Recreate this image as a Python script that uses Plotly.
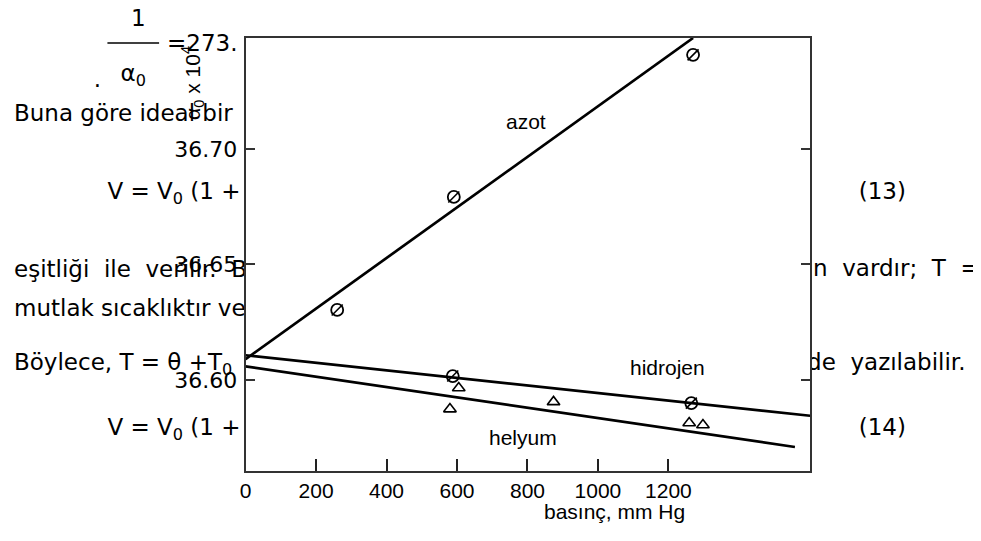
import plotly.graph_objects as go

# ---------------- data ----------------
azot_p = [260, 591, 1270]
azot_v = [36.6303, 36.6792, 36.7407]
hidrojen_p = [588, 1265]
hidrojen_v = [36.6017, 36.5900]
helyum_p = [580, 605, 874, 1259, 1298]
helyum_v = [36.5874, 36.5965, 36.5905, 36.5814, 36.5805]

azot_fit_p = [0, 1270]
azot_fit_v = [36.609, 36.748]
hidrojen_fit_p = [0, 1602]
hidrojen_fit_v = [36.6107, 36.5845]
helyum_fit_p = [0, 1559]
helyum_fit_v = [36.6059, 36.5710]

y_ticks = [36.60, 36.65, 36.70]
x_ticks = [0, 200, 400, 600, 800, 1000, 1200]
x_range = [0, 1602]
y_range = [36.5606, 36.748]

# background page text (left-aligned pieces)
bg_left_text = [
    "=273.",
    "Buna göre ideal bir",
    "V = V<sub>0</sub> (1 +",
    "(13)",
    "eşitliği\u00a0\u00a0ile\u00a0\u00a0verilir.\u00a0\u00a0Bu",
    "n\u00a0\u00a0vardır;\u00a0\u00a0T\u00a0\u00a0=",
    "mutlak sıcaklıktır ve",
    "Böylece, T = θ +T<sub>0</sub>",
    "de\u00a0\u00a0yazılabilir.",
    "V = V<sub>0</sub> (1 +",
    "(14)",
]
bg_left_x = [162, 8, 102, 858, 8, 812, 8, 8, 806, 102, 858]
bg_left_y = [45, 115, 193, 193, 271, 270, 310, 364, 364, 429, 429]

bg_center_text = ["1", "α<sub>0</sub>", "."]
bg_center_x = [133, 128, 92]
bg_center_y = [20, 75, 81]

# page geometry (reference pixels); the html body adds an 8px margin
OFF = 8
W, H = 981 - OFF, 541 - OFF
px_left, px_right, px_top, px_bottom = 241, 809, 38, 471


def fx(px):
    return (px - OFF) / W


def fy(py):
    return 1 - (py - OFF) / H


BODY = "DejaVu Sans"
ARIAL = "Liberation Sans, Arial"

fig = go.Figure()

# background page text (drawn in full-page subplot, underneath the chart)
fig.add_trace(go.Scatter(
    x=bg_left_x, y=bg_left_y, text=bg_left_text, mode="text",
    textposition="middle right", textfont=dict(family=BODY, size=23, color="black"),
    xaxis="x", yaxis="y", hoverinfo="skip", cliponaxis=False))
fig.add_trace(go.Scatter(
    x=bg_center_x, y=bg_center_y, text=bg_center_text, mode="text",
    textposition="middle center", textfont=dict(family=BODY, size=23, color="black"),
    xaxis="x", yaxis="y", hoverinfo="skip", cliponaxis=False))

# white plot area covering page text
fig.add_trace(go.Scatter(
    x=[x_range[0], x_range[1], x_range[1], x_range[0], x_range[0]],
    y=[y_range[0], y_range[0], y_range[1], y_range[1], y_range[0]],
    fill="toself", fillcolor="white", mode="none",
    xaxis="x2", yaxis="y2", hoverinfo="skip"))

line_style = dict(color="black", width=2.7)
for fp, fv in [(azot_fit_p, azot_fit_v), (hidrojen_fit_p, hidrojen_fit_v), (helyum_fit_p, helyum_fit_v)]:
    fig.add_trace(go.Scatter(x=fp, y=fv, mode="lines", line=line_style,
                             xaxis="x2", yaxis="y2", hoverinfo="skip"))

# circle-with-slash markers
for p, v in [(azot_p, azot_v), (hidrojen_p, hidrojen_v)]:
    fig.add_trace(go.Scatter(x=p, y=v, mode="markers",
                             marker=dict(symbol="circle-open", size=12, color="black",
                                         line=dict(width=1.8, color="black")),
                             xaxis="x2", yaxis="y2"))
    fig.add_trace(go.Scatter(x=p, y=v, mode="markers",
                             marker=dict(symbol="line-ne-open", size=11, color="black",
                                         line=dict(width=1.6, color="black")),
                             xaxis="x2", yaxis="y2"))

fig.add_trace(go.Scatter(x=helyum_p, y=helyum_v, mode="markers",
                         marker=dict(symbol="triangle-up-open", size=11, color="black",
                                     line=dict(width=1.6, color="black")),
                         xaxis="x2", yaxis="y2"))

fig.update_layout(
    width=W, height=H,
    margin=dict(l=0, r=0, t=0, b=0),
    paper_bgcolor="white", plot_bgcolor="rgba(0,0,0,0)",
    showlegend=False,
    xaxis=dict(domain=[0, 1], range=[OFF, OFF + W], visible=False, fixedrange=True),
    yaxis=dict(domain=[0, 1], range=[OFF + H, OFF], visible=False, fixedrange=True),
    xaxis2=dict(
        domain=[fx(px_left), fx(px_right)], anchor="y2", range=x_range,
        tickvals=x_ticks, ticks="inside", ticklen=12, tickwidth=2, tickcolor="#222",
        showline=True, linecolor="#333", linewidth=2, mirror=True,
        showgrid=False, zeroline=False,
        tickfont=dict(family=ARIAL, size=21, color="black"),
        ticklabelstandoff=0,
    ),
    yaxis2=dict(
        domain=[fy(px_bottom), fy(px_top)], anchor="x2", range=y_range,
        tickvals=y_ticks, tickformat=".2f", ticks="inside", ticklen=9, tickwidth=2,
        tickcolor="#333", showline=True, linecolor="#333", linewidth=2, mirror="ticks",
        showgrid=False, zeroline=False,
        tickfont=dict(family=BODY, size=22, color="black"),
        ticklabelstandoff=2,
    ),
    shapes=[dict(type="line", xref="x", yref="y", x0=102, x1=154, y0=43, y1=43,
                 line=dict(color="black", width=1.5))],
    annotations=[
        dict(text="α<sub>0</sub> x 10<sup>4</sup>", xref="paper", yref="paper",
             x=fx(188), y=fy(83), xanchor="center", yanchor="middle",
             textangle=-90, showarrow=False,
             font=dict(family=ARIAL, size=21, color="black")),
        dict(text="basınç, mm Hg", xref="paper", yref="paper",
             x=fx(612), y=fy(511), xanchor="center", yanchor="middle", showarrow=False,
             font=dict(family=ARIAL, size=21, color="black")),
        dict(text="azot", xref="x2", yref="y2", x=797, y=36.7117, showarrow=False,
             font=dict(family=ARIAL, size=21, color="black")),
        dict(text="hidrojen", xref="x2", yref="y2", x=1196, y=36.6052, showarrow=False,
             font=dict(family=ARIAL, size=21, color="black")),
        dict(text="helyum", xref="x2", yref="y2", x=788, y=36.5753, showarrow=False,
             font=dict(family=ARIAL, size=21, color="black")),
    ],
)

fig.write_html("out.html")
